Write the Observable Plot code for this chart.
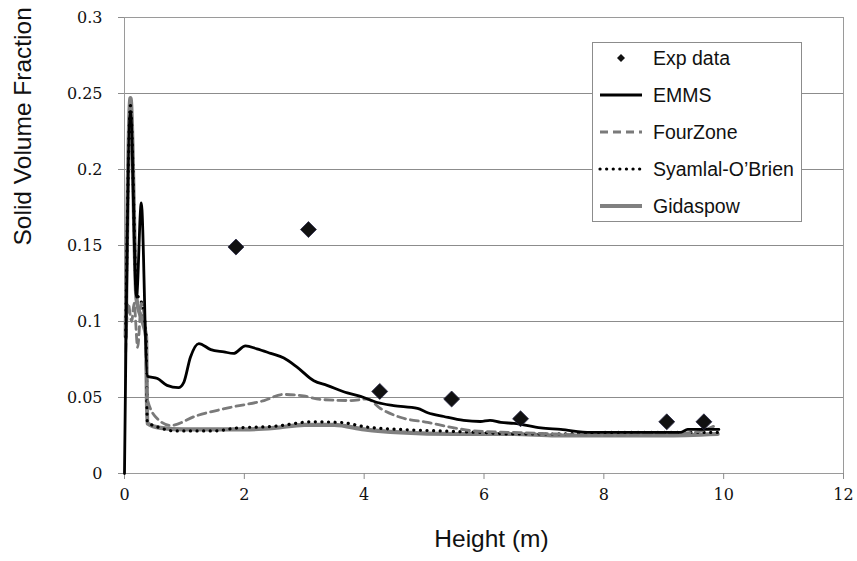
<!DOCTYPE html>
<html>
<head>
<meta charset="utf-8">
<script src="https://cdn.jsdelivr.net/npm/d3@7"></script>
<script src="https://cdn.jsdelivr.net/npm/@observablehq/plot@0.6"></script>
<style>
  body { margin: 0; background: #fff; }
  #wrap { position: relative; width: 857px; height: 561px; }
  #wrap svg text.tk { font-family: 'DejaVu Serif', 'Liberation Serif', serif; }
  #legend { position: absolute; left: 592px; top: 42px; width: 210px; height: 180px;
    border: 1px solid #8c8c8c; background: #fff; font-family: "Liberation Sans", Arial, sans-serif;
    font-size: 19.5px; color: #111; box-sizing: border-box; }
  .row { position: absolute; left: 0; height: 26px; width: 100%; }
  .row svg { position: absolute; left: 4px; top: 1px; }
  .row span { position: absolute; left: 60px; top: 1px; line-height: 24px; }
</style>
</head>
<body>
<div id="wrap"></div>
<script>
// ---- data ----
const expHeight = [1.86, 3.07, 4.26, 5.46, 6.61, 9.05, 9.67];
const expFrac   = [0.149, 0.1605, 0.054, 0.049, 0.036, 0.034, 0.034];

const emmsHeight = [0, 0.1, 0.2, 0.28, 0.38, 0.55, 0.71, 0.9, 0.99, 1.1, 1.24, 1.44, 1.66, 1.82, 2.02, 2.21, 2.44, 2.66, 2.88, 3.16, 3.38, 3.72, 3.94, 4.22, 4.49, 4.89, 5.06, 5.33, 5.66, 5.94, 6.1, 6.28, 6.5, 6.95, 7.28, 7.78, 8.5, 9.28, 9.4, 9.92];
const emmsFrac   = [0, 0.238, 0.116, 0.178, 0.064, 0.0625, 0.058, 0.0565, 0.06, 0.0765, 0.0855, 0.0815, 0.080, 0.079, 0.084, 0.082, 0.079, 0.076, 0.070, 0.061, 0.058, 0.053, 0.0507, 0.0467, 0.0447, 0.0428, 0.040, 0.0375, 0.0349, 0.0342, 0.035, 0.0336, 0.033, 0.030, 0.029, 0.027, 0.027, 0.027, 0.029, 0.029];

const fourHeight = [0.02, 0.06, 0.12, 0.16, 0.22, 0.28, 0.34, 0.38, 0.55, 0.77, 1.2, 1.77, 2.33, 2.64, 2.99, 3.27, 3.77, 4.05, 4.27, 4.6, 5.06, 5.5, 5.83, 6.5, 7.2, 8, 8.8, 9.5, 9.83];
const fourFrac   = [0.08, 0.112, 0.1, 0.112, 0.083, 0.112, 0.1, 0.049, 0.036, 0.0316, 0.038, 0.0435, 0.048, 0.052, 0.051, 0.0487, 0.048, 0.049, 0.0428, 0.037, 0.0336, 0.030, 0.028, 0.027, 0.026, 0.025, 0.026, 0.027, 0.031];

const syamHeight = [0.02, 0.1, 0.2, 0.3, 0.36, 0.38, 0.6, 0.82, 1.49, 1.89, 2.49, 3.14, 3.6, 4.05, 4.6, 5.27, 5.94, 6.5, 7.2, 8, 9, 9.9];
const syamFrac   = [0.09, 0.242, 0.12, 0.11, 0.09, 0.034, 0.03, 0.028, 0.028, 0.030, 0.031, 0.034, 0.0336, 0.0305, 0.029, 0.028, 0.027, 0.026, 0.026, 0.027, 0.027, 0.027];

const gidaHeight = [0.02, 0.1, 0.2, 0.3, 0.36, 0.38, 0.6, 1, 2, 2.5, 3, 3.5, 4, 4.6, 5.5, 6.5, 7.2, 8, 9, 9.9];
const gidaFrac   = [0.09, 0.247, 0.115, 0.1, 0.09, 0.033, 0.030, 0.029, 0.029, 0.030, 0.032, 0.032, 0.029, 0.027, 0.026, 0.026, 0.025, 0.025, 0.025, 0.026];

const xTicks = [0, 2, 4, 6, 8, 10, 12];
const yTicks = [0, 0.05, 0.1, 0.15, 0.2, 0.25, 0.3];
const xTickLabels = ["0", "2", "4", "6", "8", "10", "12"];
const yTickLabels = ["0", "0.05", "0.1", "0.15", "0.2", "0.25", "0.3"];

const toRows = (xs, ys) => xs.map((x, i) => ({x, y: ys[i]}));
const exp  = toRows(expHeight, expFrac);
const emms = toRows(emmsHeight, emmsFrac);
const four = toRows(fourHeight, fourFrac);
const syam = toRows(syamHeight, syamFrac);
const gida = toRows(gidaHeight, gidaFrac);
const xLab = xTicks.map((v, i) => ({v, t: xTickLabels[i]}));
const yLab = yTicks.map((v, i) => ({v, t: yTickLabels[i]}));

const labelFont = "'Liberation Sans', Arial, sans-serif";
const tickFont = "'DejaVu Serif', 'Liberation Serif', serif";

const chart = Plot.plot({
  width: 857,
  height: 561,
  marginLeft: 124,
  marginRight: 14,
  marginTop: 17,
  marginBottom: 88,
  style: {fontSize: "16px", color: "#111", background: "#fff"},
  x: {domain: [0, 12]},
  y: {domain: [0, 0.3]},
  marks: [
    Plot.gridY(yTicks, {stroke: "#8c8c8c", strokeOpacity: 1}),
    Plot.frame({stroke: "#9a9a9a"}),
    Plot.axisX(xTicks, {tickSize: 6, stroke: "#8c8c8c", label: null, tickFormat: () => ""}),
    Plot.axisY(yTicks, {tickSize: 6, stroke: "#8c8c8c", label: null, tickFormat: () => ""}),
    Plot.text(xLab, {x: "v", text: "t", frameAnchor: "bottom", dy: 26,
      fontFamily: tickFont, fontSize: 16, fill: "#111"}),
    Plot.text(yLab, {y: "v", text: "t", frameAnchor: "left", dx: -22, textAnchor: "end",
      fontFamily: tickFont, fontSize: 16, fill: "#111"}),
    Plot.line(gida, {x: "x", y: "y", stroke: "#808080", strokeWidth: 4.2, curve: "monotone-x"}),
    Plot.line(syam, {x: "x", y: "y", stroke: "#000", strokeWidth: 3.2, strokeDasharray: "0.1 6.5", strokeLinecap: "round", curve: "monotone-x"}),
    Plot.line(four, {x: "x", y: "y", stroke: "#7a7a7a", strokeWidth: 2.8, strokeDasharray: "8 5", curve: "monotone-x"}),
    Plot.line(emms, {x: "x", y: "y", stroke: "#000", strokeWidth: 2.8, curve: "monotone-x"}),
    Plot.dot(exp, {x: "x", y: "y", symbol: "diamond2", r: 7.2, fill: "#111", stroke: "#2a2a4a", strokeWidth: 0.8}),
    Plot.text(["Solid Volume Fraction"], {frameAnchor: "left", dx: -101, rotate: -90,
      fontFamily: labelFont, fontSize: 24.5, fill: "#111"}),
    Plot.text(["Height (m)"], {frameAnchor: "bottom", dx: 7.5, dy: 73,
      fontFamily: labelFont, fontSize: 24.5, fill: "#111"})
  ]
});

// make sure numeric tick labels use the serif face
chart.querySelectorAll("text").forEach(t => {
  if (/^[0-9.]+$/.test(t.textContent.trim())) {
    t.classList.add("tk");
    t.setAttribute("font-family", tickFont);
    t.style.setProperty("font-family", tickFont, "important");
  }
});

const wrap = document.getElementById("wrap");
wrap.appendChild(chart);

// ---- legend ----
const legendItems = [
  {label: "Exp data", kind: "dot"},
  {label: "EMMS", stroke: "#000", width: 2.8, dash: null},
  {label: "FourZone", stroke: "#7a7a7a", width: 2.8, dash: "8 5"},
  {label: "Syamlal-O\u2019Brien", stroke: "#000", width: 3.2, dash: "0.1 6.5", cap: "round"},
  {label: "Gidaspow", stroke: "#808080", width: 4.2, dash: null}
];
const legend = document.createElement("div");
legend.id = "legend";
legendItems.forEach((it, i) => {
  const row = document.createElement("div");
  row.className = "row";
  row.style.top = (2 + i * 37) + "px";
  let sym;
  if (it.kind === "dot") {
    sym = `<svg width="50" height="24"><path d="M24,8 L28,12 L24,16 L20,12 Z" fill="#111"/></svg>`;
  } else {
    sym = `<svg width="50" height="24"><line x1="3" x2="45" y1="12" y2="12" stroke="${it.stroke}" stroke-width="${it.width}"${it.dash ? ` stroke-dasharray="${it.dash}"` : ""}${it.cap ? ` stroke-linecap="${it.cap}"` : ""}/></svg>`;
  }
  row.innerHTML = sym + `<span>${it.label}</span>`;
  legend.appendChild(row);
});
wrap.appendChild(legend);
</script>
</body>
</html>
